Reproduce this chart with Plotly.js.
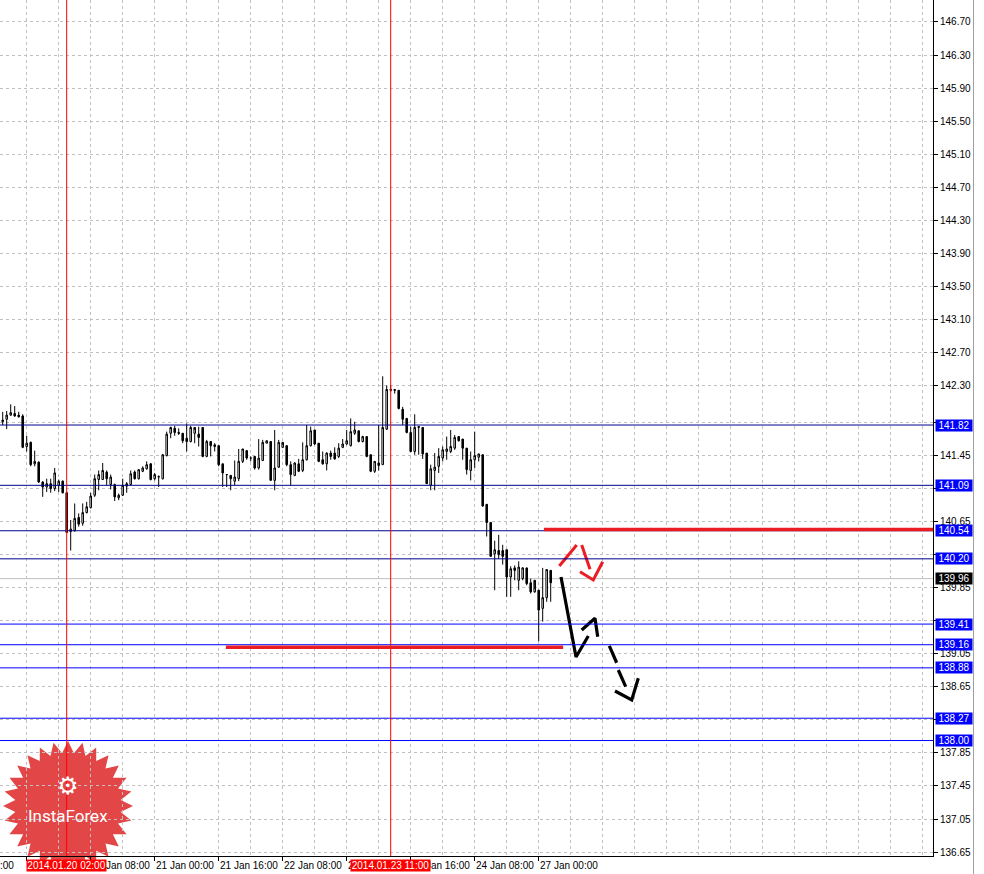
<!DOCTYPE html>
<html><head><meta charset="utf-8">
<script src="https://cdn.plot.ly/plotly-3.0.1.min.js"></script>
<style>html,body{margin:0;padding:0;background:#fff}#chart{width:984px;height:874px}</style>
</head><body><div id="chart"></div>
<script>
// ---- DATA ----
const firstBar = -6; // bar index of first visible candle (index 0 = 17 Jan 16:00, H1 bars)
const opens  = [141.86,141.89,141.94,141.96,141.94,141.93,141.56,141.61,141.35,141.37,141.13,141.07,141.11,141.05,141.09,141.14,141.00,140.53,140.54,140.70,140.63,140.76,140.82,140.97,141.16,141.16,141.25,141.10,141.10,140.94,140.97,141.08,141.10,141.25,141.17,141.26,141.29,141.35,141.17,141.19,141.17,141.45,141.72,141.78,141.73,141.72,141.66,141.62,141.72,141.71,141.79,141.44,141.62,141.58,141.57,141.35,141.22,141.21,141.14,141.17,141.38,141.51,141.42,141.44,141.30,141.39,141.60,141.62,141.15,141.31,141.55,141.57,141.34,141.21,141.35,141.27,141.40,141.57,141.76,141.60,141.40,141.35,141.48,141.48,141.44,141.55,141.59,141.57,141.72,141.75,141.62,141.68,141.46,141.26,141.36,141.34,141.77,142.24,142.25,142.24,142.01,141.90,141.73,141.50,141.79,141.79,141.48,141.09,141.27,141.32,141.42,141.50,141.50,141.54,141.68,141.65,141.54,141.27,141.40,141.43,141.46,140.86,140.64,140.26,140.30,140.30,140.31,139.98,140.09,139.94,139.96,140.09,139.91,139.80,139.82,139.60,139.73,140.06,139.90];
const highs  = [141.98,141.99,142.07,142.05,141.98,141.95,141.69,141.62,141.51,141.38,141.14,141.17,141.17,141.30,141.16,141.15,141.01,140.67,140.87,140.75,140.87,140.89,141.00,141.22,141.27,141.36,141.27,141.22,141.11,140.99,141.17,141.13,141.27,141.27,141.28,141.32,141.38,141.36,141.24,141.21,141.47,141.74,141.80,141.81,141.78,141.70,141.84,141.81,141.76,141.80,141.64,141.64,141.60,141.60,141.36,141.25,141.22,141.21,141.39,141.53,141.52,141.48,141.44,141.44,141.65,141.64,141.63,141.32,141.76,141.64,141.58,141.36,141.38,141.37,141.41,141.61,141.82,141.80,141.61,141.42,141.50,141.49,141.51,141.55,141.60,141.65,141.76,141.90,141.86,141.70,141.69,141.47,141.40,141.38,141.82,142.41,142.30,142.30,142.25,142.08,142.04,141.74,141.80,141.95,141.79,141.50,141.38,141.34,141.48,141.54,141.56,141.68,141.76,141.70,141.66,141.55,141.44,141.50,141.74,141.47,140.91,140.65,140.43,140.42,140.49,140.37,140.10,140.11,140.12,140.17,140.10,139.92,139.96,139.83,139.75,140.09,140.07,139.98];
const lows   = [141.82,141.77,141.93,141.92,141.91,141.54,141.50,141.32,141.32,141.12,140.95,141.01,141.00,141.02,141.01,140.99,140.51,140.30,140.53,140.59,140.60,140.75,140.81,140.95,141.03,141.16,141.09,141.04,140.90,140.91,140.96,141.00,141.09,141.16,141.16,141.25,141.28,141.15,141.15,141.07,141.16,141.44,141.66,141.69,141.70,141.60,141.50,141.61,141.60,141.56,141.43,141.43,141.44,141.50,141.32,141.07,141.07,141.03,141.09,141.14,141.36,141.40,141.38,141.28,141.28,141.39,141.60,141.15,141.03,141.30,141.54,141.32,141.09,141.20,141.25,141.25,141.39,141.56,141.58,141.37,141.34,141.27,141.40,141.40,141.42,141.54,141.58,141.56,141.70,141.61,141.61,141.43,141.25,141.24,141.27,141.34,141.76,142.22,142.20,142.01,141.82,141.72,141.49,141.46,141.46,141.41,141.11,141.03,141.03,141.24,141.38,141.40,141.48,141.52,141.62,141.40,141.22,141.15,141.30,141.38,140.83,140.47,140.23,139.82,140.20,140.13,139.74,139.74,139.94,139.82,139.94,139.88,139.78,139.79,139.20,139.44,139.68,139.68,139.90];
const closes = [141.88,141.94,141.97,141.93,141.92,141.55,141.60,141.34,141.38,141.13,141.07,141.11,141.05,141.24,141.14,141.00,140.52,140.56,140.69,140.62,140.76,140.83,140.96,141.17,141.22,141.27,141.17,141.19,140.95,140.97,141.09,141.11,141.23,141.17,141.28,141.30,141.34,141.16,141.22,141.195,141.46,141.71,141.79,141.73,141.72,141.63,141.62,141.79,141.79,141.67,141.44,141.62,141.57,141.56,141.34,141.24,141.22,141.17,141.19,141.38,141.53,141.42,141.42,141.30,141.42,141.61,141.63,141.15,141.30,141.61,141.61,141.34,141.22,141.36,141.26,141.40,141.57,141.75,141.59,141.38,141.35,141.48,141.44,141.41,141.54,141.59,141.63,141.74,141.76,141.62,141.68,141.44,141.26,141.38,141.33,141.79,142.25,142.25,142.24,142.02,141.89,141.73,141.50,141.79,141.80,141.47,141.11,141.29,141.31,141.44,141.52,141.53,141.56,141.67,141.63,141.54,141.28,141.40,141.45,141.47,140.84,140.64,140.23,140.31,140.25,140.23,139.98,140.08,140.06,140.10,140.09,139.90,139.80,139.94,139.58,139.73,140.07,139.91,139.96];

const timeTickIdx    = [0, 16, 32, 48, 64, 80, 96, 112, 128];
const timeTickLabels = ['17 Jan 16:00','20 Jan 08:00','21 Jan 00:00','21 Jan 16:00','22 Jan 08:00','23 Jan 00:00','23 Jan 16:00','24 Jan 08:00','27 Jan 00:00'];
const leftCutLabel   = '17 Jan 00:00';

const priceTicks  = [146.70,146.30,145.90,145.50,145.10,144.70,144.30,143.90,143.50,143.10,142.70,142.30,141.85,141.45,141.05,140.65,140.25,139.85,139.45,139.05,138.65,138.25,137.85,137.45,137.05,136.65];
const hiddenTicks = [141.85,141.05,140.25,139.45,138.25]; // covered by level boxes in the reference

const upperLevels = [141.82, 141.09, 140.54, 140.20];
const lowerLevels = [139.41, 139.16, 138.88, 138.27, 138.00];
const bidPrice = 139.96;

const vlineIdx    = [10, 91];
const vlineLabels = ['2014.01.20 02:00', '2014.01.23 11:00'];

// thick red trend segments: [startIdx, endIdx, price]
const resistSeg = [129.3, 226.6, 140.555];
const supportSeg = [49.8, 134.1, 139.13];

// hand-drawn forecast arrows (bar index, price), null = pen lift
const redArrowX = [133.15,137.5,null,138.75,140.825,null,138.325,141.65,144.0];
const redArrowY = [140.113,140.368,null,140.368,140.073,null,140.044,139.944,140.165];
const blackArrowX = [133.575,137.325,140.4,null,138.75,142.075,142.75,null,145.65,147.5,null,147.9,149.75,null,147.075,151.25,152.9];
const blackArrowY = [139.98,139.011,139.266,null,139.338,139.48,139.257,null,139.145,138.942,null,138.854,138.652,null,138.60,138.491,138.753];

// ---- CHART ----
const W = 984, H = 874, ML = 0, MR = 51, MT = 0, MB = 18;
const PW = W - ML - MR, PH = H - MT - MB;
const xRange = [-6.675, 226.575];
const yRange = [136.602, 146.966];
const FONT = 'Liberation Sans, Arial, sans-serif';
const FS = 10;
const labelY = 1 - 865.5 / PH;

const xs = opens.map((_, i) => firstBar + i);

const traces = [{
  type: 'candlestick', x: xs, open: opens, high: highs, low: lows, close: closes,
  increasing: {line: {color: '#000', width: 1}, fillcolor: '#fff'},
  decreasing: {line: {color: '#000', width: 1}, fillcolor: '#000'},
  whiskerwidth: 0, hoverinfo: 'skip', showlegend: false
}, {
  type: 'scatter', mode: 'lines', x: redArrowX, y: redArrowY, connectgaps: false,
  line: {color: '#ec1c24', width: 3}, hoverinfo: 'skip', showlegend: false
}, {
  type: 'scatter', mode: 'lines', x: blackArrowX, y: blackArrowY, connectgaps: false,
  line: {color: '#000', width: 3.2}, hoverinfo: 'skip', showlegend: false
}];

const shapes = [];
// logo star
(function(){
  const cx = 68, cy = 806, R = 65, r = 53, N = 28;
  let d = '';
  for (let k = 0; k < 2 * N; k++) {
    const a = -Math.PI / 2 + k * Math.PI / N;
    const rad = (k % 2 === 0) ? R : r;
    const px = cx + rad * Math.cos(a), py = cy + rad * Math.sin(a);
    d += (k === 0 ? 'M' : 'L') + (px / PW).toFixed(5) + ',' + (1 - py / PH).toFixed(5);
  }
  d += 'Z';
  shapes.push({type: 'path', xref: 'paper', yref: 'paper', path: d,
    fillcolor: '#e24646', line: {width: 0}, layer: 'between'});
})();
upperLevels.forEach(p => shapes.push({type: 'line', xref: 'paper', yref: 'y', x0: 0, x1: 1, y0: p, y1: p,
  line: {color: '#00008c', width: 1}, layer: 'above'}));
lowerLevels.forEach(p => shapes.push({type: 'line', xref: 'paper', yref: 'y', x0: 0, x1: 1, y0: p, y1: p,
  line: {color: '#0000ff', width: 1}, layer: 'above'}));
shapes.push({type: 'line', xref: 'paper', yref: 'y', x0: 0, x1: 1, y0: bidPrice, y1: bidPrice,
  line: {color: '#c0c0c0', width: 1}, layer: 'between'});
vlineIdx.forEach(v => shapes.push({type: 'line', xref: 'x', yref: 'paper', x0: v, x1: v, y0: 0, y1: 1,
  line: {color: '#ff0000', width: 1}, layer: 'above'}));
[resistSeg, supportSeg].forEach(s => shapes.push({type: 'line', xref: 'x', yref: 'y',
  x0: s[0], x1: s[1], y0: s[2], y1: s[2], line: {color: '#ec1c24', width: 3.5}, layer: 'above'}));
// window border
shapes.push({type: 'line', xref: 'paper', yref: 'paper', x0: 973.5 / PW, x1: 973.5 / PW, y0: -MB / PH, y1: 1,
  line: {color: '#a0a0a0', width: 1}});

const annotations = [];
// time-axis labels (left-aligned at their tick, as in the terminal)
timeTickIdx.forEach((v, i) => annotations.push({x: v, xref: 'x', y: labelY, yref: 'paper',
  xanchor: 'left', yanchor: 'middle', xshift: -1, text: timeTickLabels[i], showarrow: false,
  font: {family: FONT, size: FS, color: '#000'}}));
annotations.push({x: 16 / PW, xref: 'paper', y: labelY, yref: 'paper', xanchor: 'right', yanchor: 'middle',
  text: leftCutLabel, showarrow: false, font: {family: FONT, size: FS, color: '#000'}});

const boxY = p => ({x: 934.5 / PW, xref: 'paper', xanchor: 'left', y: p, yref: 'y', yanchor: 'middle'});
upperLevels.concat(lowerLevels).forEach(p => annotations.push(Object.assign(boxY(p), {
  text: p.toFixed(2), showarrow: false, bgcolor: '#0000ff', font: {family: FONT, size: FS, color: '#fff'},
  width: 36, height: 11, borderpad: 0, align: 'center'})));
annotations.push(Object.assign(boxY(bidPrice), {text: bidPrice.toFixed(2), showarrow: false, bgcolor: '#000',
  font: {family: FONT, size: FS, color: '#fff'}, width: 36, height: 11, borderpad: 0, align: 'center'}));
vlineIdx.forEach((v, i) => annotations.push({x: v, xref: 'x', y: labelY, yref: 'paper',
  xanchor: 'center', yanchor: 'middle', text: vlineLabels[i], showarrow: false, bgcolor: '#ff0000',
  font: {family: FONT, size: FS, color: '#fff'}, width: 79, height: 11, borderpad: 0}));
// logo texts
annotations.push({x: 68 / PW, xref: 'paper', y: 1 - 786 / PH, yref: 'paper', xanchor: 'center', yanchor: 'middle',
  text: '\u2699', showarrow: false, font: {family: 'DejaVu Sans', size: 24, color: '#fff'}});
annotations.push({x: 68 / PW, xref: 'paper', y: 1 - 816 / PH, yref: 'paper', xanchor: 'center', yanchor: 'middle',
  text: 'InstaForex', showarrow: false, font: {family: 'Roboto, Liberation Sans', size: 17, color: '#fff'}});

const minorX = [];
for (let v = -8; v <= 232; v += 8) minorX.push(v);

const layout = {
  width: W, height: H, margin: {l: ML, r: MR, t: MT, b: MB, pad: 0},
  paper_bgcolor: '#fff', plot_bgcolor: '#fff', showlegend: false, dragmode: false,
  font: {family: FONT, size: FS, color: '#000'},
  xaxis: {
    range: xRange, type: 'linear', rangeslider: {visible: false}, fixedrange: true,
    tickmode: 'array', tickvals: timeTickIdx, showticklabels: false,
    ticks: 'outside', ticklen: 4, tickcolor: '#000',
    showline: true, linecolor: '#000', linewidth: 1, zeroline: false,
    showgrid: true, gridcolor: '#c0c0c0', griddash: '3px,3px', gridwidth: 1,
    minor: {tickmode: 'array', tickvals: minorX, showgrid: true, gridcolor: '#c0c0c0', griddash: '3px,3px', ticks: ''}
  },
  yaxis: {
    range: yRange, side: 'right', fixedrange: true,
    tickmode: 'array', tickvals: priceTicks,
    ticktext: priceTicks.map(v => hiddenTicks.includes(v) ? '' : v.toFixed(2)),
    ticks: 'outside', ticklen: 4, tickcolor: '#000',
    showline: true, linecolor: '#000', linewidth: 1, zeroline: false,
    showgrid: true, gridcolor: '#c0c0c0', griddash: '3px,3px', gridwidth: 1,
    tickfont: {family: FONT, size: FS, color: '#000'}
  },
  boxgap: 0.45,
  shapes: shapes, annotations: annotations
};

Plotly.newPlot('chart', traces, layout, {displayModeBar: false, staticPlot: true});
</script></body></html>
